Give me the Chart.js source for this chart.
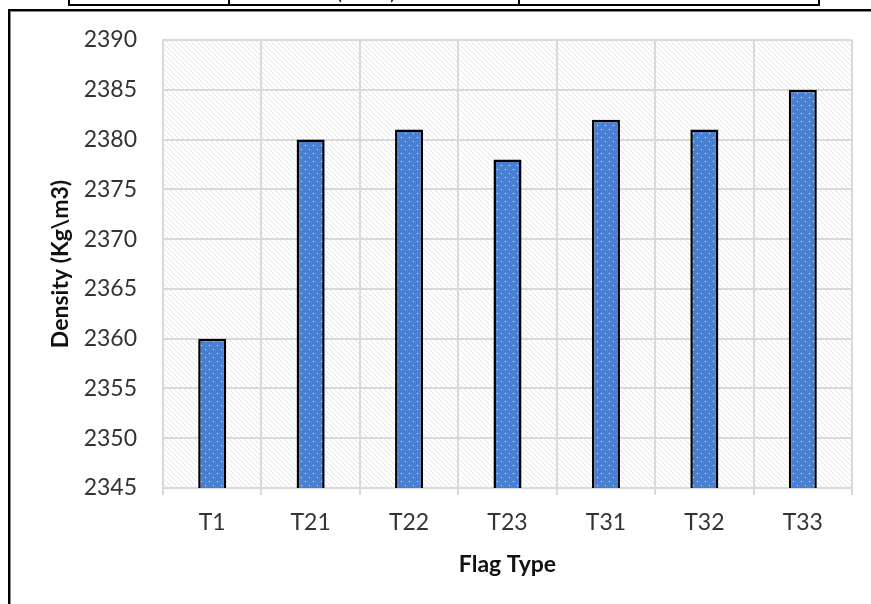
<!DOCTYPE html>
<html>
<head>
<meta charset="utf-8">
<script src="https://cdn.jsdelivr.net/npm/chart.js@4.4.1/dist/chart.umd.min.js"></script>
<style>
  html, body { margin: 0; padding: 0; background: #fff; }
  body { width: 871px; height: 604px; position: relative; overflow: hidden; font-family: Lato, "Open Sans", sans-serif; }
  #wrap { position: absolute; left: 0; top: 0; width: 871px; height: 604px; }
  .ln { position: absolute; background: #000; }
  .sh { position: absolute; background: #888; }
  .paren { position: absolute; font-family: Lato, sans-serif; font-size: 23px; color: #222; line-height: 23px; }
</style>
</head>
<body>
<div id="wrap"><canvas id="c" width="871" height="604"></canvas></div>
<!-- cropped table fragment at top -->
<div class="ln" style="left:68px; top:4px; width:752px; height:2px;"></div>
<div class="ln" style="left:68px; top:0; width:2px; height:6px;"></div>
<div class="ln" style="left:228px; top:0; width:2px; height:6px;"></div>
<div class="ln" style="left:518px; top:0; width:2px; height:6px;"></div>
<div class="ln" style="left:818px; top:0; width:2px; height:6px;"></div>
<div class="paren" style="left:336px; top:-21px;">(</div>
<div class="paren" style="left:390px; top:-21px;">)</div>
<!-- frame -->
<div class="ln" style="left:8px; top:9px; width:863px; height:2px;"></div>
<div class="sh" style="left:10px; top:11px; width:861px; height:1px;"></div>
<div class="ln" style="left:8px; top:9px; width:2px; height:595px;"></div>
<div class="sh" style="left:10px; top:11px; width:1px; height:593px;"></div>
<script>
const categories = ["T1", "T21", "T22", "T23", "T31", "T32", "T33"];
const density = [2360, 2380, 2381, 2378, 2382, 2381, 2385];
const yMin = 2345, yMax = 2390, yStep = 5;
const xTitle = "Flag Type";
const yTitle = "Density (Kg\\m3)";

function makeHatch() {
  const s = 5;
  const c = document.createElement('canvas');
  c.width = s; c.height = s;
  const g = c.getContext('2d');
  g.fillStyle = '#ffffff';
  g.fillRect(0, 0, s, s);
  g.strokeStyle = '#e2e2e2';
  g.lineWidth = 1;
  g.beginPath();
  g.moveTo(-1, -1); g.lineTo(s + 1, s + 1);
  g.moveTo(-1, s - 1); g.lineTo(1, s + 1);
  g.moveTo(s - 1, -1); g.lineTo(s + 1, 1);
  g.stroke();
  return g.createPattern(c, 'repeat');
}
function makeDots() {
  const c = document.createElement('canvas');
  c.width = 8; c.height = 8;
  const g = c.getContext('2d');
  g.fillStyle = '#4a80d2';
  g.fillRect(0, 0, 8, 8);
  g.fillStyle = '#e4edf9';
  g.fillRect(1, 1, 1, 1);
  g.fillRect(5, 5, 1, 1);
  return g.createPattern(c, 'repeat');
}

const hatchPlugin = {
  id: 'hatch',
  beforeDraw(chart) {
    const {ctx, chartArea: a} = chart;
    ctx.save();
    ctx.fillStyle = '#fff';
    ctx.fillRect(0, 0, chart.width, chart.height);
    ctx.fillStyle = makeHatch();
    ctx.fillRect(a.left, a.top, a.right - a.left, a.bottom - a.top);
    ctx.restore();
  }
};

const tickFont = { family: 'Lato, "Open Sans", sans-serif', size: 23 };
const titleFont = { family: 'Lato, "Open Sans", sans-serif', size: 23, weight: 'bold' };

new Chart(document.getElementById('c'), {
  type: 'bar',
  data: {
    labels: categories,
    datasets: [{
      data: density,
      backgroundColor: makeDots(),
      borderColor: '#000',
      borderWidth: 2.5,
      borderSkipped: false,
      barPercentage: 0.285,
      categoryPercentage: 1
    }]
  },
  options: {
    responsive: false,
    animation: false,
    devicePixelRatio: 1,
    layout: { padding: { left: 0, top: 40, right: 19, bottom: 0 } },
    plugins: { legend: { display: false }, tooltip: { enabled: false } },
    scales: {
      x: {
        grid: { color: '#d9d9d9', lineWidth: 2, tickLength: 7, offset: true },
        border: { color: '#d9d9d9', width: 2 },
        ticks: { color: '#333', font: tickFont, padding: 14 },
        title: { display: true, text: xTitle, color: '#111', font: titleFont, padding: { top: 0, bottom: 26 } },
        afterFit(scale) { scale.height = 116; }
      },
      y: {
        min: yMin, max: yMax,
        grid: { color: '#d9d9d9', lineWidth: 2, drawTicks: false },
        border: { color: '#d9d9d9', width: 2 },
        ticks: { stepSize: yStep, color: '#333', font: tickFont, padding: 26, callback: (v) => String(v) },
        title: { display: true, text: yTitle, color: '#111', font: titleFont, padding: { top: 47, bottom: 0 } },
        afterFit(scale) { scale.width = 163; }
      }
    }
  },
  plugins: [hatchPlugin]
});
</script>
</body>
</html>
